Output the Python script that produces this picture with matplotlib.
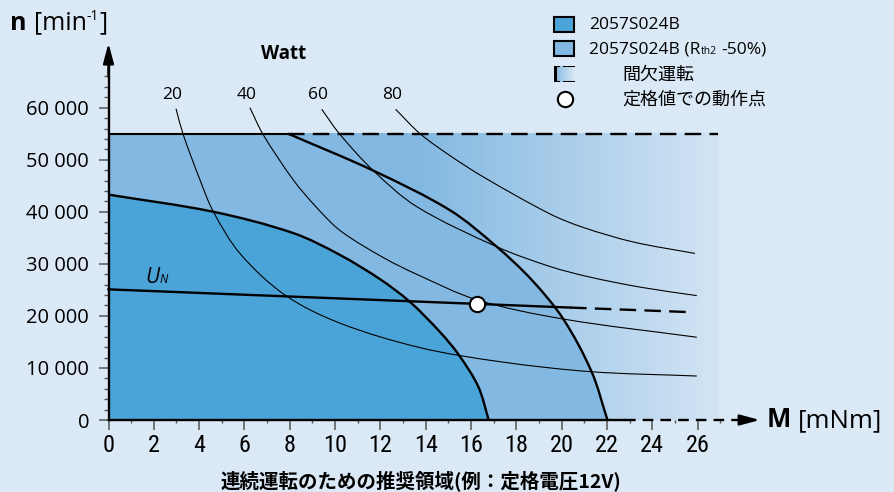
import numpy as np
import matplotlib
matplotlib.use("Agg")
import matplotlib.pyplot as plt
from matplotlib.ticker import FixedLocator, FuncFormatter
from matplotlib.patches import Rectangle, PathPatch
from matplotlib.lines import Line2D
from matplotlib.path import Path
from matplotlib import font_manager as fm

# ---------------- data ----------------
x_ticks = [0, 2, 4, 6, 8, 10, 12, 14, 16, 18, 20, 22, 24, 26]
y_ticks = [0, 10000, 20000, 30000, 40000, 50000, 60000]

watt_levels = ["20", "40", "60", "80"]

w20_M = [2.98, 3.3, 4.04, 4.63, 5.8, 7.79, 10.22, 13.75, 17.28, 21.32, 25.96]
w20_n = [59800, 54800, 46100, 40000, 32000, 24000, 18600, 13900, 11200, 9270, 8450]

w40_M = [6.24, 6.83, 8.16, 9.19, 10.25, 12.13, 13.6, 16.25, 20.07, 25.96]
w40_n = [60000, 54800, 46100, 40800, 36300, 31200, 28000, 23100, 19400, 15900]

w60_M = [9.41, 10.19, 11.69, 13.6, 17.13, 19.48, 21.2, 23.5, 25.96]
w60_n = [59700, 55000, 47900, 41000, 33300, 29500, 27500, 25500, 23900]

w80_M = [12.67, 13.75, 15.07, 16.54, 19.48, 20.95, 23.16, 25.88]
w80_n = [59700, 55000, 50800, 46700, 39600, 37000, 34200, 32000]

cont_M = [0, 4.63, 8.16, 10.22, 12.0, 13.3, 14.63, 15.46, 16.32, 16.78]
cont_n = [43300, 40000, 35900, 31700, 27000, 22700, 16900, 12500, 6400, 0]

rth_M = [7.93, 11.69, 15.07, 17.13, 18.68, 20.07, 21.32, 22.02]
rth_n = [55000, 47900, 40300, 33300, 26900, 19400, 9270, 0]

max_speed = 55000
max_speed_M = [0, 7.93, 26.9]

un_M = [0, 20.37, 25.8]
un_n = [25100, 21600, 20700]

op_M = [16.28]
op_n = [22300]

# ---------------- style ----------------
W, H = 894, 492
BG = "#dbe8f5"
INNER = "#4aa4d8"
OUTER = "#82b8e1"
FADE_END = "#d3e4f4"


def _w(f):
    w = f.weight
    if isinstance(w, str):
        return 700 if "bold" in w.lower() else 400
    return int(w)


def family_ok(name, need_bold=True):
    ents = [f for f in fm.fontManager.ttflist if f.name == name]
    if not ents:
        return False
    return (not need_bold) or any(_w(f) >= 600 for f in ents)


LATIN = next((n for n in ["Noto Sans", "Open Sans", "Lato", "DejaVu Sans"] if family_ok(n)), "DejaVu Sans")
CJK = "Noto Sans CJK JP"

# narrow font for the x tick labels
narrow_fp = None
for cand in ["Liberation Sans Narrow", "Roboto Condensed", "Open Sans Condensed",
             "Noto Sans Condensed", "DejaVu Sans Condensed"]:
    ents = [f for f in fm.fontManager.ttflist if f.name == cand and _w(f) < 600
            and f.style == "normal"]
    if ents:
        narrow_fp = fm.FontProperties(fname=ents[0].fname)
        break
if narrow_fp is None:
    ents = [f for f in fm.fontManager.ttflist
            if f.name in (LATIN, "DejaVu Sans", "Roboto", "Open Sans", "Noto Sans")
            and str(f.stretch) in ("condensed", "semi-condensed", "extra-condensed")
            and _w(f) < 600 and f.style == "normal"]
    if ents:
        narrow_fp = fm.FontProperties(fname=ents[0].fname)

plt.rcParams["font.family"] = [LATIN, CJK, "DejaVu Sans"]

fig = plt.figure(figsize=(W / 100, H / 100), dpi=100, facecolor=BG)
ax = fig.add_axes([0, 0, 1, 1])
ax.set_facecolor(BG)

# pixel calibration: M=0 at x=108.5 px, 22.66 px per mNm; n=0 at y=420 px, 0.005205 px per rpm
X0, SX = 108.5, 22.66
Y0, SY = 420.0, 0.005205


def fx(px):
    return px / W


def fy(py):
    return 1 - py / H


def bezier_segments(xs, ys):
    """Smooth cubic Bezier path through the given points (chord-length tangents)."""
    P = np.column_stack([xs, ys]).astype(float)
    n = len(P)
    scale = np.array([SX, SY])
    d = np.hypot(*((np.diff(P, axis=0) * scale).T))
    tt = np.concatenate([[0], np.cumsum(d)])
    m = np.zeros_like(P)
    m[0] = (P[1] - P[0]) / (tt[1] - tt[0])
    m[-1] = (P[-1] - P[-2]) / (tt[-1] - tt[-2])
    for i in range(1, n - 1):
        m[i] = (P[i + 1] - P[i - 1]) / (tt[i + 1] - tt[i - 1])
    out = []
    for i in range(n - 1):
        h = tt[i + 1] - tt[i]
        out += [P[i] + m[i] * h / 3.0, P[i + 1] - m[i + 1] * h / 3.0, P[i + 1]]
    return out


def curve_path(xs, ys):
    segs = bezier_segments(xs, ys)
    verts = [(xs[0], ys[0])] + segs
    codes = [Path.MOVETO] + [Path.CURVE4] * len(segs)
    return Path(verts, codes)


def region_path(lead, xs, ys):
    segs = bezier_segments(xs, ys)
    verts = list(lead) + [(xs[0], ys[0])] + segs + [lead[0]]
    codes = ([Path.MOVETO] + [Path.LINETO] * (len(lead) - 1) + [Path.LINETO]
             + [Path.CURVE4] * len(segs) + [Path.CLOSEPOLY])
    return Path(verts, codes)


# gradient band (intermittent operation)
gx = np.linspace(0, 26.9, 500)
t = np.clip((gx - 13.5) / (26.9 - 13.5), 0, 1)
c0 = np.array(matplotlib.colors.to_rgb(OUTER))
c1 = np.array(matplotlib.colors.to_rgb(FADE_END))
grad = (c0[None, :] * (1 - t[:, None]) + c1[None, :] * t[:, None])[None, :, :]
ax.imshow(grad, extent=[0, 26.9, 0, max_speed], aspect="auto", origin="lower",
          zorder=1, interpolation="bilinear")

# Rth2 -50% region
ax.add_patch(PathPatch(region_path([(0, 0), (0, max_speed)], rth_M, rth_n),
                       fc=OUTER, ec="none", lw=0, zorder=2))
# continuous region
ax.add_patch(PathPatch(region_path([(0, 0)], cont_M, cont_n),
                       fc=INNER, ec="none", lw=0, zorder=3))

# constant power curves
for Ms, ns in [(w20_M, w20_n), (w40_M, w40_n), (w60_M, w60_n), (w80_M, w80_n)]:
    ax.add_patch(PathPatch(curve_path(Ms, ns), fill=False, ec="black", lw=0.8, zorder=4))

# boundaries
ax.add_patch(PathPatch(curve_path(cont_M, cont_n), fill=False, ec="black", lw=1.7, zorder=5))
ax.add_patch(PathPatch(curve_path(rth_M, rth_n), fill=False, ec="black", lw=1.7, zorder=5))
ax.plot(max_speed_M[:2], [max_speed] * 2, color="black", lw=1.5, zorder=5)
ax.plot(max_speed_M[1:], [max_speed] * 2, color="black", lw=1.7, zorder=5,
        linestyle=(0, (7, 3.5)))

# U_N line
ax.plot(un_M[:2], un_n[:2], color="black", lw=1.7, zorder=5)
ax.plot(un_M[1:], un_n[1:], color="black", lw=1.7, zorder=5, linestyle=(0, (7, 3.5)))

# operating point
ax.plot(op_M, op_n, marker="o", ms=11, mfc="white", mec="black", mew=1.5,
        linestyle="none", zorder=7)

# ---------------- axes ----------------
ax.set_xlim(-X0 / SX, (W - X0) / SX)
ax.set_ylim((Y0 - H) / SY, Y0 / SY)

for s in ["top", "right"]:
    ax.spines[s].set_visible(False)
ax.spines["left"].set_position(("data", 0))
ax.spines["bottom"].set_position(("data", 0))
ax.spines["left"].set_bounds(0, 68000)
ax.spines["bottom"].set_bounds(0, 22.8)
for s in ["left", "bottom"]:
    ax.spines[s].set_linewidth(1.7)
    ax.spines[s].set_zorder(6)

ax.xaxis.set_major_locator(FixedLocator(x_ticks))
ax.xaxis.set_minor_locator(FixedLocator(list(range(1, 28, 2))))
ax.yaxis.set_major_locator(FixedLocator(y_ticks))
ax.yaxis.set_minor_locator(FixedLocator([v for v in range(2000, 66001, 2000) if v % 10000]))
ax.yaxis.set_major_formatter(FuncFormatter(lambda v, p: f"{int(v):,}".replace(",", " ")))
ax.xaxis.set_major_formatter(FuncFormatter(lambda v, p: f"{int(v)}"))

ax.tick_params(axis="x", which="major", direction="out", length=7, width=1.1,
               color="#555555", pad=3)
ax.tick_params(axis="x", which="minor", direction="out", length=2.5, width=1.0,
               color="#555555")
ax.tick_params(axis="y", which="major", direction="out", length=7.5, width=1.1,
               color="#555555", pad=6.5, labelsize=14.5)
ax.tick_params(axis="y", which="minor", direction="out", length=3.5, width=1.0,
               color="#555555")
for lab in ax.get_xticklabels():
    if narrow_fp is not None:
        lab.set_fontproperties(narrow_fp)
        lab.set_fontsize(17.5)
    else:
        lab.set_fontsize(15.5)

# axis arrows
ax.annotate("", xy=(0, 72400), xytext=(0, 66000),
            arrowprops=dict(arrowstyle="-|>,head_length=1.2,head_width=0.32",
                            lw=1.7, color="black", shrinkA=0, shrinkB=0), zorder=6)
ax.plot([22.8, 28.1], [0, 0], color="black", lw=1.7, linestyle=(0, (4.5, 3)), zorder=6)
ax.annotate("", xy=(28.75, 0), xytext=(27.9, 0),
            arrowprops=dict(arrowstyle="-|>,head_length=1.2,head_width=0.32",
                            lw=1.7, color="black", shrinkA=0, shrinkB=0), zorder=6)

# ---------------- texts ----------------
T = fig.transFigure
renderer = fig.canvas.get_renderer()


def chain(x_px, y_base_px, parts):
    """parts: (text, fontsize, weight, style, raise_px, gap_after_px)"""
    x = x_px
    for s, size, weight, style, dy, gap in parts:
        t_ = fig.text(fx(x), fy(y_base_px - dy), s, fontsize=size, fontweight=weight,
                      fontstyle=style, ha="left", va="baseline")
        x += t_.get_window_extent(renderer).width + gap


chain(10, 29.5, [("n", 18, "bold", "normal", 0, 7),
                 ("[min", 18, "normal", "normal", 0, 0.5),
                 ("-1", 10, "normal", "normal", 10, 0.5),
                 ("]", 18, "normal", "normal", 0, 0)])
chain(767, 427, [("M", 18.5, "bold", "normal", 0, 6),
                 ("[mNm]", 18.5, "normal", "normal", 0, 0)])
chain(145, 283, [("U", 15, "normal", "italic", 0, 0.5),
                 ("N", 8.5, "normal", "italic", 0, 0)])

fig.text(fx(284), fy(54), "Watt", fontsize=13.5, fontweight="bold", ha="center", va="center")
for lab, px in zip(watt_levels, [172, 247, 318, 392]):
    fig.text(fx(px), fy(95), lab, fontsize=12.5, ha="center", va="center")

fig.text(fx(421), fy(481), "連続運転のための推奨領域(例：定格電圧12V)", fontsize=14,
         fontweight="bold", family=[CJK], ha="center", va="center")

# ---------------- legend ----------------
fig.add_artist(Rectangle((fx(554), fy(32)), 20 / W, 15 / H, transform=T,
                         fc=INNER, ec="black", lw=1.5))
fig.add_artist(Rectangle((fx(554), fy(56)), 20 / W, 15 / H, transform=T,
                         fc=OUTER, ec="black", lw=1.5))
# intermittent icon
iax = fig.add_axes([fx(554), fy(82), 21 / W, 16 / H])
ig = np.linspace(0, 1, 50)
icol = (c0[None, :] * (1 - ig[:, None])
        + np.array(matplotlib.colors.to_rgb(BG))[None, :] * ig[:, None])[None, :, :]
iax.imshow(icol, extent=[0, 1, 0, 1], aspect="auto")
iax.set_xlim(0, 1)
iax.set_ylim(0, 1)
iax.axis("off")
iax.plot([0.04, 0.04], [0.0, 1.0], color="black", lw=2.2, solid_capstyle="butt")
iax.plot([0.04, 0.22], [0.97, 0.97], color="black", lw=1.5)
iax.plot([0.04, 0.22], [0.03, 0.03], color="black", lw=1.5)
iax.plot([0.48, 1.0], [0.97, 0.97], color="black", lw=1.5)
iax.plot([0.48, 1.0], [0.03, 0.03], color="black", lw=1.5)

fig.add_artist(Line2D([fx(565)], [fy(99)], marker="o", ms=11, mfc="white", mec="black",
                      mew=1.5, transform=T))

chain(589, 29, [("2057S024B", 12.5, "normal", "normal", 0, 0)])
chain(589, 53.5, [("2057S024B (R", 12.5, "normal", "normal", 0, 0.5),
                  ("th2", 7.5, "normal", "normal", 0, 4),
                  ("-50%)", 12.5, "normal", "normal", 0, 0)])
fig.text(fx(622), fy(74.5), "間欠運転", fontsize=13, va="center", family=[CJK])
fig.text(fx(622), fy(99.5), "定格値での動作点", fontsize=13, va="center", family=[CJK])

fig.savefig("out.png", dpi=100, facecolor=BG)
